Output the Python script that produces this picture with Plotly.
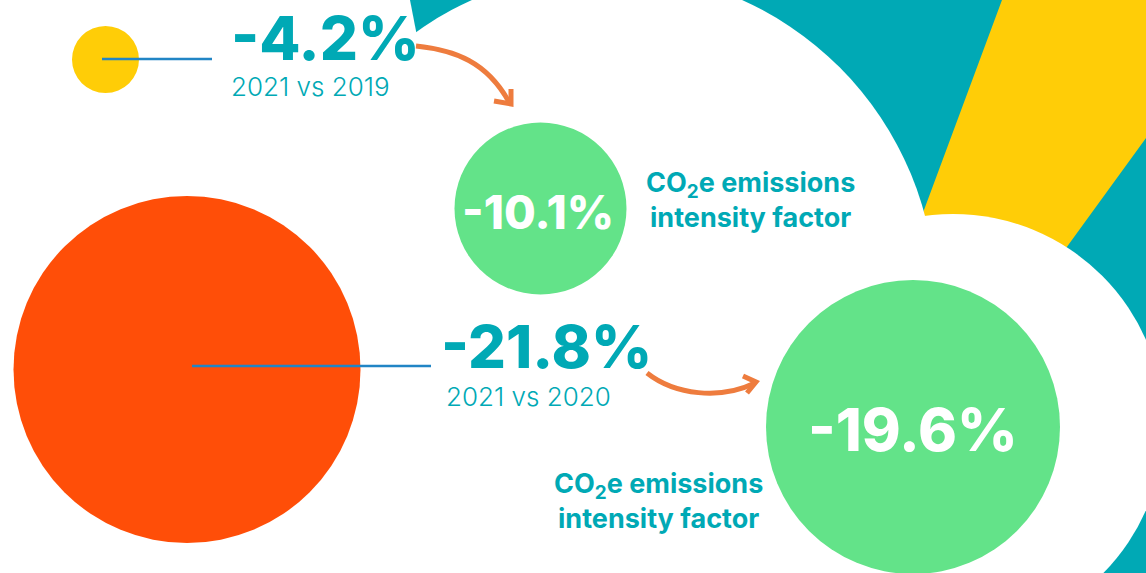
import plotly.graph_objects as go

# ---- data ----
total_change = [-4.2, -21.8]
total_labels = ["2021 vs 2019", "2021 vs 2020"]
intensity_change = [-10.1, -19.6]
intensity_label = "CO<sub>2</sub>e emissions<br>intensity factor"

# ---- styles ----
TEAL = "#00A9B5"
YELLOW = "#FFCD07"
ORANGE = "#FF4E08"
GREEN = "#63E389"
ARROW = "#EE7C3E"
BLUE = "#2185C5"
FONT = "Inter"

W, H = 1146, 573
fig = go.Figure()
fig.add_trace(go.Scatter(x=[0, W], y=[0, H], mode="markers",
                         marker=dict(opacity=0), hoverinfo="skip", showlegend=False))

shapes = []
# background rays
shapes.append(dict(type="path", path="M 410 0 L 1146 0 L 1146 573 L 1000 573 L 700 400 L 440 155 Z",
                   fillcolor=TEAL, line=dict(width=0), layer="below"))
shapes.append(dict(type="path", path="M 1002 0 L 1160 0 L 1160 120 L 1146 138 L 992 350 L 872 350 Z",
                   fillcolor=YELLOW, line=dict(width=0), layer="below"))
# white cloud circles
def circ(cx, cy, r, color):
    return dict(type="circle", x0=cx - r, x1=cx + r, y0=cy - r, y1=cy + r,
                fillcolor=color, line=dict(width=0), layer="below")
shapes.append(circ(607, 300, 329, "white"))
shapes.append(circ(953, 425, 211, "white"))
# bubbles
shapes.append(circ(105.5, 59.5, 33.5, YELLOW))
shapes.append(circ(187, 369.5, 173.5, ORANGE))
shapes.append(circ(540.5, 208.5, 86, GREEN))
shapes.append(circ(913, 427, 147, GREEN))
# connector lines
shapes.append(dict(type="line", x0=102, x1=212, y0=59, y1=59, line=dict(color=BLUE, width=2.5)))
shapes.append(dict(type="line", x0=192, x1=431, y0=366, y1=366, line=dict(color=BLUE, width=2.5)))
# arrows
shapes.append(dict(type="path", path="M 416 46 C 455 50, 487 62, 509 102", line=dict(color=ARROW, width=5)))
shapes.append(dict(type="path", path="M 511 89 L 511 104 L 494 101", line=dict(color=ARROW, width=5)))
shapes.append(dict(type="path", path="M 647 373 C 675 395, 720 400, 755 383", line=dict(color=ARROW, width=5)))
shapes.append(dict(type="path", path="M 743 376 L 756 382 L 747 393", line=dict(color=ARROW, width=5)))

ann = []
# total change labels
pos_big = [(229, 38, 60), (439, 346, 59.5)]
pos_small = [(229, 86), (444, 396)]
for v, lab, (bx, by, fs), (sx, sy) in zip(total_change, total_labels, pos_big, pos_small):
    ann.append(dict(x=bx, y=by, text=f"{v:.1f}%", xanchor="left", yanchor="middle", showarrow=False,
                    font=dict(family=FONT, size=fs, color=TEAL, weight=800)))
    ann.append(dict(x=sx, y=sy, text=lab, xanchor="left", yanchor="middle", showarrow=False,
                    font=dict(family=FONT, size=26, color=TEAL, weight=300)))
# intensity bubbles
pos_int = [(538, 212, 46), (913, 429, 59)]
for v, (cx, cy, fs) in zip(intensity_change, pos_int):
    ann.append(dict(x=cx, y=cy, text=f"{v:.1f}%", xanchor="center", yanchor="middle", showarrow=False,
                    font=dict(family=FONT, size=fs, color="white", weight=800)))
pos_lab = [(750, 200), (658, 501)]
for (lx, ly) in pos_lab:
    ann.append(dict(x=lx, y=ly, text=intensity_label, xanchor="center", yanchor="middle", showarrow=False,
                    align="center", font=dict(family=FONT, size=27, color=TEAL, weight=700)))

fig.update_layout(
    width=W, height=H, margin=dict(l=0, r=0, t=0, b=0),
    paper_bgcolor="white", plot_bgcolor="white",
    xaxis=dict(range=[0, W], visible=False, fixedrange=True),
    yaxis=dict(range=[H, 0], visible=False, fixedrange=True),
    shapes=shapes, annotations=ann, showlegend=False,
)
fig.write_html("out.html", config={"displayModeBar": False},
               post_script="document.body.style.margin='0';document.body.style.overflow='hidden';")
